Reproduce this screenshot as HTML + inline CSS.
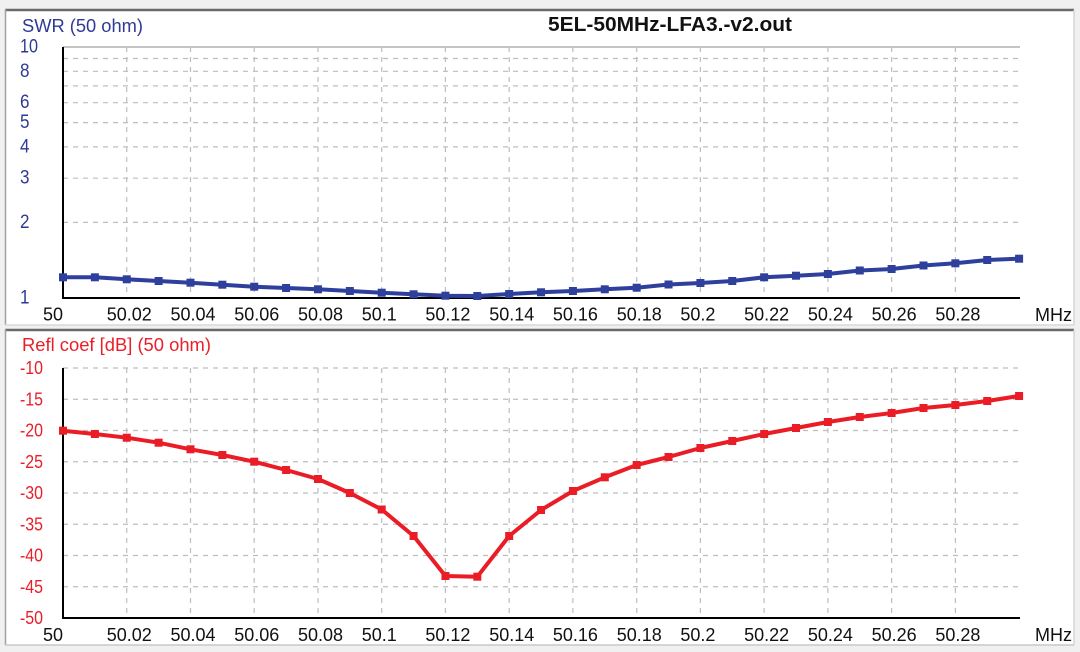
<!DOCTYPE html>
<html>
<head>
<meta charset="utf-8">
<style>
html,body{margin:0;padding:0;background:#f0f0f0;}
svg{display:block;}
text{font-family:"Liberation Sans",Arial,sans-serif;}
</style>
</head>
<body>
<svg width="1080" height="652" viewBox="0 0 1080 652" xmlns="http://www.w3.org/2000/svg">
<rect x="0" y="0" width="1080" height="652" fill="#f0f0f0"/>
<!-- Top panel -->
<rect x="5" y="9" width="1069" height="316" fill="#ffffff"/>
<line x1="5" y1="10" x2="1074" y2="10" stroke="#6a6a6a" stroke-width="2.5"/>
<line x1="5.5" y1="9" x2="5.5" y2="325" stroke="#a0a0a0" stroke-width="1.5"/>
<line x1="1074" y1="10" x2="1074" y2="325" stroke="#d4d4d4" stroke-width="1.5"/>
<line x1="5" y1="325" x2="1074" y2="325" stroke="#d8d8d8" stroke-width="1.5"/>
<!-- Bottom panel -->
<rect x="5" y="329" width="1069" height="316" fill="#ffffff"/>
<line x1="5" y1="330" x2="1074" y2="330" stroke="#6a6a6a" stroke-width="2.5"/>
<line x1="5.5" y1="329" x2="5.5" y2="645" stroke="#a0a0a0" stroke-width="1.5"/>
<line x1="1074" y1="330" x2="1074" y2="645" stroke="#d4d4d4" stroke-width="1.5"/>
<line x1="5" y1="645" x2="1074" y2="645" stroke="#c8c8c8" stroke-width="1.5"/>

<!-- Title and axis titles -->
<text x="548" y="31" font-size="20" font-weight="bold" fill="#111" textLength="244" lengthAdjust="spacingAndGlyphs">5EL-50MHz-LFA3.-v2.out</text>
<text x="22" y="32" font-size="18" fill="#2e3a94" textLength="121" lengthAdjust="spacingAndGlyphs">SWR (50 ohm)</text>
<text x="22" y="351" font-size="18" fill="#e8202a" textLength="189" lengthAdjust="spacingAndGlyphs">Refl coef [dB] (50 ohm)</text>

<!-- Top grid -->
<g stroke="#bdbdbd" stroke-width="1.2" stroke-dasharray="5,5" fill="none">
<line x1="63" y1="58.5" x2="1020" y2="58.5"/>
<line x1="63" y1="71.3" x2="1020" y2="71.3"/>
<line x1="63" y1="85.9" x2="1020" y2="85.9"/>
<line x1="63" y1="102.7" x2="1020" y2="102.7"/>
<line x1="63" y1="122.6" x2="1020" y2="122.6"/>
<line x1="63" y1="146.9" x2="1020" y2="146.9"/>
<line x1="63" y1="178.2" x2="1020" y2="178.2"/>
<line x1="63" y1="222.4" x2="1020" y2="222.4"/>
<line x1="126.7" y1="47" x2="126.7" y2="298"/>
<line x1="190.5" y1="47" x2="190.5" y2="298"/>
<line x1="254.2" y1="47" x2="254.2" y2="298"/>
<line x1="318" y1="47" x2="318" y2="298"/>
<line x1="381.7" y1="47" x2="381.7" y2="298"/>
<line x1="445.4" y1="47" x2="445.4" y2="298"/>
<line x1="509.2" y1="47" x2="509.2" y2="298"/>
<line x1="572.9" y1="47" x2="572.9" y2="298"/>
<line x1="636.7" y1="47" x2="636.7" y2="298"/>
<line x1="700.4" y1="47" x2="700.4" y2="298"/>
<line x1="764.1" y1="47" x2="764.1" y2="298"/>
<line x1="827.9" y1="47" x2="827.9" y2="298"/>
<line x1="891.6" y1="47" x2="891.6" y2="298"/>
<line x1="955.4" y1="47" x2="955.4" y2="298"/>
</g>
<line x1="63" y1="47" x2="1020" y2="47" stroke="#c4c4c4" stroke-width="2"/>

<!-- Bottom grid -->
<g stroke="#bdbdbd" stroke-width="1.2" stroke-dasharray="5,5" fill="none">
<line x1="63" y1="368" x2="1020" y2="368"/>
<line x1="63" y1="399.25" x2="1020" y2="399.25"/>
<line x1="63" y1="430.5" x2="1020" y2="430.5"/>
<line x1="63" y1="461.75" x2="1020" y2="461.75"/>
<line x1="63" y1="493" x2="1020" y2="493"/>
<line x1="63" y1="524.25" x2="1020" y2="524.25"/>
<line x1="63" y1="555.5" x2="1020" y2="555.5"/>
<line x1="63" y1="586.75" x2="1020" y2="586.75"/>
<line x1="126.7" y1="368" x2="126.7" y2="618"/>
<line x1="190.5" y1="368" x2="190.5" y2="618"/>
<line x1="254.2" y1="368" x2="254.2" y2="618"/>
<line x1="318" y1="368" x2="318" y2="618"/>
<line x1="381.7" y1="368" x2="381.7" y2="618"/>
<line x1="445.4" y1="368" x2="445.4" y2="618"/>
<line x1="509.2" y1="368" x2="509.2" y2="618"/>
<line x1="572.9" y1="368" x2="572.9" y2="618"/>
<line x1="636.7" y1="368" x2="636.7" y2="618"/>
<line x1="700.4" y1="368" x2="700.4" y2="618"/>
<line x1="764.1" y1="368" x2="764.1" y2="618"/>
<line x1="827.9" y1="368" x2="827.9" y2="618"/>
<line x1="891.6" y1="368" x2="891.6" y2="618"/>
<line x1="955.4" y1="368" x2="955.4" y2="618"/>
</g>

<!-- Axes -->
<g stroke="#000" stroke-width="2">
<line x1="63" y1="47" x2="63" y2="299"/>
<line x1="62" y1="298" x2="1020" y2="298"/>
<line x1="63" y1="368" x2="63" y2="619"/>
<line x1="62" y1="618" x2="1020" y2="618"/>
</g>

<!-- Top Y labels -->
<g font-size="19" fill="#2e3a94">
<text x="20" y="52.5" textLength="18" lengthAdjust="spacingAndGlyphs">10</text>
<text x="20" y="77" textLength="9.5" lengthAdjust="spacingAndGlyphs">8</text>
<text x="20" y="108.2" textLength="9.5" lengthAdjust="spacingAndGlyphs">6</text>
<text x="20" y="128.1" textLength="9.5" lengthAdjust="spacingAndGlyphs">5</text>
<text x="20" y="152.4" textLength="9.5" lengthAdjust="spacingAndGlyphs">4</text>
<text x="20" y="183.7" textLength="9.5" lengthAdjust="spacingAndGlyphs">3</text>
<text x="20" y="227.9" textLength="9.5" lengthAdjust="spacingAndGlyphs">2</text>
<text x="20" y="303.5" textLength="9.5" lengthAdjust="spacingAndGlyphs">1</text>
</g>

<!-- Bottom Y labels -->
<g font-size="18" fill="#e8202a">
<text x="20" y="374" textLength="23" lengthAdjust="spacingAndGlyphs">-10</text>
<text x="20" y="405.25" textLength="23" lengthAdjust="spacingAndGlyphs">-15</text>
<text x="20" y="436.5" textLength="23" lengthAdjust="spacingAndGlyphs">-20</text>
<text x="20" y="467.75" textLength="23" lengthAdjust="spacingAndGlyphs">-25</text>
<text x="20" y="499" textLength="23" lengthAdjust="spacingAndGlyphs">-30</text>
<text x="20" y="530.25" textLength="23" lengthAdjust="spacingAndGlyphs">-35</text>
<text x="20" y="561.5" textLength="23" lengthAdjust="spacingAndGlyphs">-40</text>
<text x="20" y="592.75" textLength="23" lengthAdjust="spacingAndGlyphs">-45</text>
<text x="20" y="624" textLength="23" lengthAdjust="spacingAndGlyphs">-50</text>
</g>

<!-- Top X labels -->
<g font-size="18" fill="#111">
<text x="43" y="320.5">50</text>
<text x="106.7" y="320.5">50.02</text>
<text x="170.5" y="320.5">50.04</text>
<text x="234.2" y="320.5">50.06</text>
<text x="298" y="320.5">50.08</text>
<text x="361.7" y="320.5">50.1</text>
<text x="425.4" y="320.5">50.12</text>
<text x="489.2" y="320.5">50.14</text>
<text x="552.9" y="320.5">50.16</text>
<text x="616.7" y="320.5">50.18</text>
<text x="680.4" y="320.5">50.2</text>
<text x="744.1" y="320.5">50.22</text>
<text x="807.9" y="320.5">50.24</text>
<text x="871.6" y="320.5">50.26</text>
<text x="935.4" y="320.5">50.28</text>
<text x="1035" y="321">MHz</text>
</g>

<!-- Bottom X labels -->
<g font-size="18" fill="#111">
<text x="43" y="641">50</text>
<text x="106.7" y="641">50.02</text>
<text x="170.5" y="641">50.04</text>
<text x="234.2" y="641">50.06</text>
<text x="298" y="641">50.08</text>
<text x="361.7" y="641">50.1</text>
<text x="425.4" y="641">50.12</text>
<text x="489.2" y="641">50.14</text>
<text x="552.9" y="641">50.16</text>
<text x="616.7" y="641">50.18</text>
<text x="680.4" y="641">50.2</text>
<text x="744.1" y="641">50.22</text>
<text x="807.9" y="641">50.24</text>
<text x="871.6" y="641">50.26</text>
<text x="935.4" y="641">50.28</text>
<text x="1035" y="641">MHz</text>
</g>

<!-- SWR series -->
<polyline fill="none" stroke="#2e3f9c" stroke-width="4" stroke-linejoin="round"
points="63,277.3 94.87,277.3 126.74,279.3 158.61,281 190.48,282.7 222.35,284.7 254.22,286.7 286.09,288 317.96,289.3 349.83,291 381.7,292.7 413.57,294.3 445.44,295.7 477.31,296 509.18,294 541.05,292.3 572.92,291 604.79,289.3 636.66,287.7 668.53,284.5 700.4,283 732.27,281 764.14,277.3 796.01,275.7 827.88,274 859.75,270.5 891.62,269 923.49,265.5 955.36,263.3 987.23,260 1019.1,258.7"/>
<g fill="#2e3f9c">
<rect x="59" y="273.3" width="8" height="8"/>
<rect x="90.87" y="273.3" width="8" height="8"/>
<rect x="122.74" y="275.3" width="8" height="8"/>
<rect x="154.61" y="277" width="8" height="8"/>
<rect x="186.48" y="278.7" width="8" height="8"/>
<rect x="218.35" y="280.7" width="8" height="8"/>
<rect x="250.22" y="282.7" width="8" height="8"/>
<rect x="282.09" y="284" width="8" height="8"/>
<rect x="313.96" y="285.3" width="8" height="8"/>
<rect x="345.83" y="287" width="8" height="8"/>
<rect x="377.7" y="288.7" width="8" height="8"/>
<rect x="409.57" y="290.3" width="8" height="8"/>
<rect x="441.44" y="291.7" width="8" height="8"/>
<rect x="473.31" y="292" width="8" height="8"/>
<rect x="505.18" y="290" width="8" height="8"/>
<rect x="537.05" y="288.3" width="8" height="8"/>
<rect x="568.92" y="287" width="8" height="8"/>
<rect x="600.79" y="285.3" width="8" height="8"/>
<rect x="632.66" y="283.7" width="8" height="8"/>
<rect x="664.53" y="280.5" width="8" height="8"/>
<rect x="696.4" y="279" width="8" height="8"/>
<rect x="728.27" y="277" width="8" height="8"/>
<rect x="760.14" y="273.3" width="8" height="8"/>
<rect x="792.01" y="271.7" width="8" height="8"/>
<rect x="823.88" y="270" width="8" height="8"/>
<rect x="855.75" y="266.5" width="8" height="8"/>
<rect x="887.62" y="265" width="8" height="8"/>
<rect x="919.49" y="261.5" width="8" height="8"/>
<rect x="951.36" y="259.3" width="8" height="8"/>
<rect x="983.23" y="256" width="8" height="8"/>
<rect x="1015.1" y="254.7" width="8" height="8"/>
</g>

<!-- Reflection series -->
<polyline fill="none" stroke="#ea1d27" stroke-width="4" stroke-linejoin="round"
points="63,430.7 94.87,434 126.74,437.7 158.61,442.7 190.48,449.3 222.35,455 254.22,461.7 286.09,470 317.96,479 349.83,493 381.7,509.5 413.57,536 445.44,576 477.31,576.7 509.18,536 541.05,510 572.92,491 604.79,477.3 636.66,465 668.53,457 700.4,448 732.27,441 764.14,434 796.01,428 827.88,422 859.75,417 891.62,413 923.49,408 955.36,405 987.23,401 1019.1,396"/>
<g fill="#ea1d27">
<rect x="59" y="426.7" width="8" height="8"/>
<rect x="90.87" y="430" width="8" height="8"/>
<rect x="122.74" y="433.7" width="8" height="8"/>
<rect x="154.61" y="438.7" width="8" height="8"/>
<rect x="186.48" y="445.3" width="8" height="8"/>
<rect x="218.35" y="451" width="8" height="8"/>
<rect x="250.22" y="457.7" width="8" height="8"/>
<rect x="282.09" y="466" width="8" height="8"/>
<rect x="313.96" y="475" width="8" height="8"/>
<rect x="345.83" y="489" width="8" height="8"/>
<rect x="377.7" y="505.5" width="8" height="8"/>
<rect x="409.57" y="532" width="8" height="8"/>
<rect x="441.44" y="572" width="8" height="8"/>
<rect x="473.31" y="572.7" width="8" height="8"/>
<rect x="505.18" y="532" width="8" height="8"/>
<rect x="537.05" y="506" width="8" height="8"/>
<rect x="568.92" y="487" width="8" height="8"/>
<rect x="600.79" y="473.3" width="8" height="8"/>
<rect x="632.66" y="461" width="8" height="8"/>
<rect x="664.53" y="453" width="8" height="8"/>
<rect x="696.4" y="444" width="8" height="8"/>
<rect x="728.27" y="437" width="8" height="8"/>
<rect x="760.14" y="430" width="8" height="8"/>
<rect x="792.01" y="424" width="8" height="8"/>
<rect x="823.88" y="418" width="8" height="8"/>
<rect x="855.75" y="413" width="8" height="8"/>
<rect x="887.62" y="409" width="8" height="8"/>
<rect x="919.49" y="404" width="8" height="8"/>
<rect x="951.36" y="401" width="8" height="8"/>
<rect x="983.23" y="397" width="8" height="8"/>
<rect x="1015.1" y="392" width="8" height="8"/>
</g>
</svg>
</body>
</html>
